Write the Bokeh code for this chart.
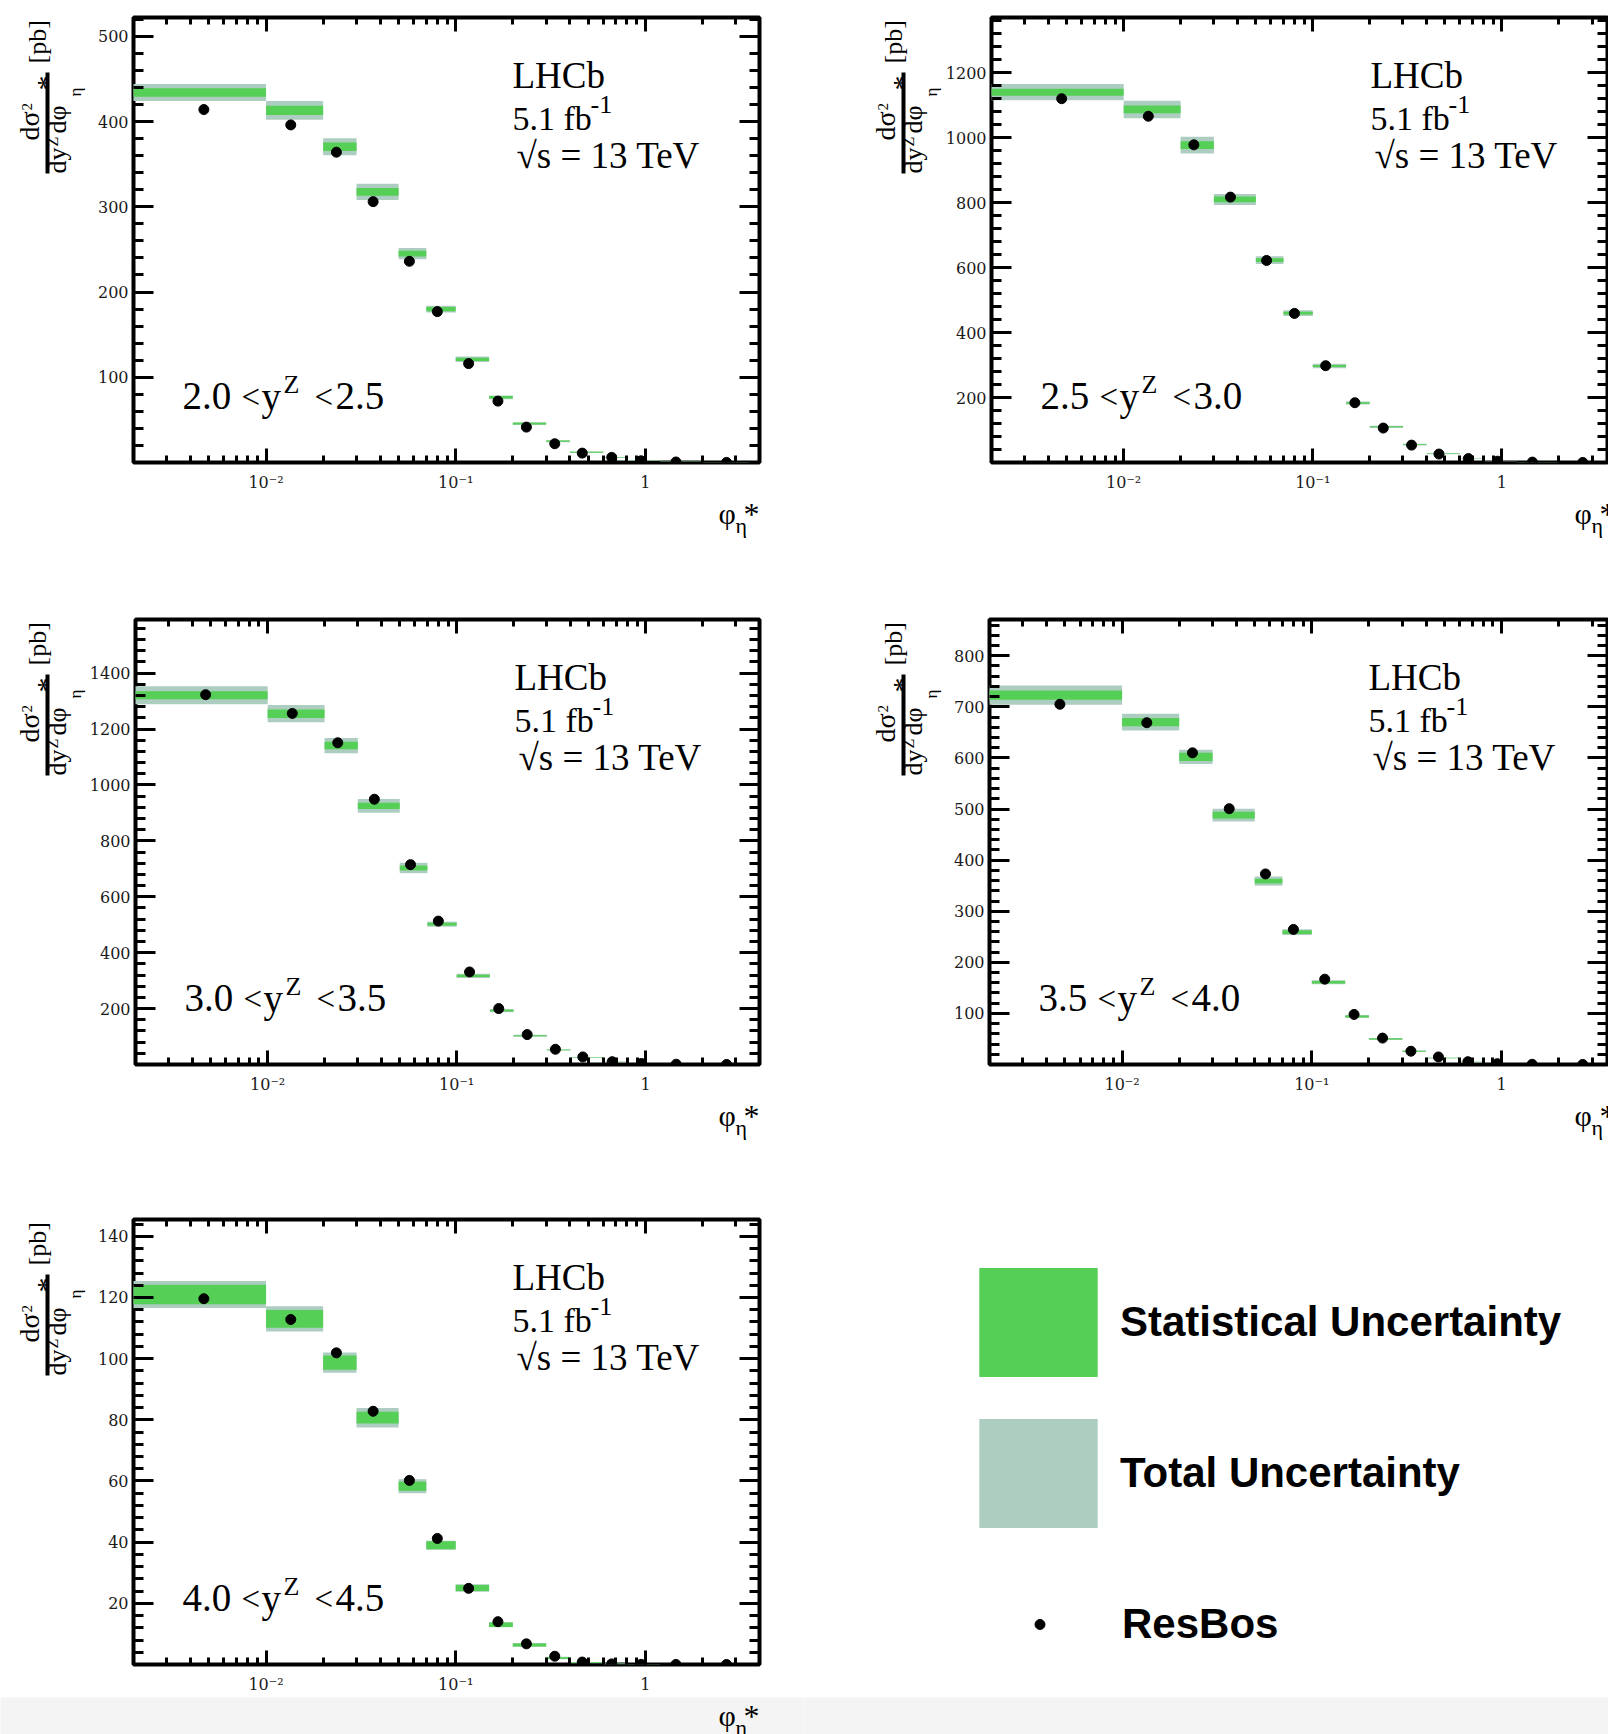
from math import pi
from bokeh.plotting import figure
from bokeh.models import (Range1d, FixedTicker, LinearAxis, LogAxis, Label, BoxAnnotation,
                          CustomJSTickFormatter, Legend, LegendItem)
from bokeh.layouts import column, row
from bokeh.embed import file_html
from bokeh.resources import INLINE

# ---------------- data ----------------
PHI_EDGES = [0.0, 0.01, 0.02, 0.03, 0.05, 0.07, 0.1, 0.15, 0.2, 0.3, 0.4, 0.6, 0.8, 1.2, 2.0, 4.0]
RESBOS_PHI = [0.0047, 0.0135, 0.0235, 0.0367, 0.057, 0.080, 0.117, 0.167, 0.236, 0.333,
              0.465, 0.665, 0.95, 1.45, 2.68]
X_TICKS = [0.01, 0.1, 1.0]
X_TICK_LABELS = ["10⁻²", "10⁻¹", "1"]

RAPIDITY_BINS = [("2.0", "2.5"), ("2.5", "3.0"), ("3.0", "3.5"), ("3.5", "4.0"), ("4.0", "4.5")]

MEAS_1 = [434, 413, 370.5, 317.5, 245, 180, 121, 76.5, 45.5, 25, 12, 6, 2.5, 0.8, 0.15]
STAT_1 = [5, 5.5, 5, 4.5, 3.5, 2.5, 2, 1.5, 1, 0.8, 0.5, 0.3, 0.2, 0.1, 0.05]
TOT_1 = [10, 11, 10, 9.5, 6.5, 4, 3.2, 2.2, 1.6, 1.2, 0.8, 0.5, 0.3, 0.15, 0.05]
RESBOS_1 = [414, 396, 364, 306, 236, 177, 116, 72, 41.5, 22, 11, 6, 2, 0.6, 0.1]

MEAS_2 = [1140, 1087, 977, 810, 623, 460, 297, 183, 110, 55, 27, 12, 4, 1.2, 0.2]
STAT_2 = [11, 12, 12, 9, 6, 4, 3, 2.5, 1.5, 1, 0.6, 0.4, 0.2, 0.1, 0.05]
TOT_2 = [25, 27, 26, 17, 12, 9, 7, 4.5, 3.5, 2.5, 1.3, 0.7, 0.3, 0.15, 0.05]
RESBOS_2 = [1120, 1066, 978, 817, 622, 459, 298, 184, 106, 53.5, 26, 12, 4, 1.2, 0.2]

MEAS_3 = [1321, 1255, 1141, 925, 703, 502, 317, 193, 103, 52, 25, 11, 3.5, 1, 0.2]
STAT_3 = [14, 15, 13.5, 11, 8.7, 5, 4, 3, 2, 1.3, 0.8, 0.4, 0.2, 0.1, 0.05]
TOT_3 = [32, 31, 27.5, 24.5, 18.5, 9, 7.5, 6, 3.7, 2, 1.2, 0.6, 0.3, 0.15, 0.05]
RESBOS_3 = [1323, 1256, 1151, 949, 715, 513, 331, 200, 107, 54.5, 27, 10, 3.5, 1, 0.2]

MEAS_4 = [723, 670, 602, 488, 359, 259, 161, 94, 50, 26, 12.7, 5, 1.5, 0.4, 0.1]
STAT_4 = [9, 8, 8, 6.7, 4.5, 3.5, 2.5, 2, 1.2, 0.8, 0.5, 0.3, 0.1, 0.05, 0.03]
TOT_4 = [19, 16.5, 14, 12.5, 9, 5.7, 4, 2.7, 2, 1.2, 0.7, 0.4, 0.15, 0.08, 0.03]
RESBOS_4 = [705, 669, 610, 500.7, 373, 264.4, 167, 98, 51.7, 26, 14.8, 5.5, 1.6, 0.4, 0.1]

MEAS_5 = [121, 113, 98.7, 80.7, 58.3, 39, 25, 13, 6.4, 2.1, 0.6, 0.2, 0.05, 0.02, 0.01]
STAT_5 = [3.2, 2.9, 2.3, 1.9, 1.5, 1.3, 1.0, 0.7, 0.5, 0.3, 0.15, 0.08, 0.03, 0.01, 0.01]
TOT_5 = [4.4, 4.1, 3.3, 3.2, 2.3, 1.5, 1.2, 0.8, 0.6, 0.4, 0.2, 0.1, 0.04, 0.02, 0.01]
RESBOS_5 = [119.6, 112.8, 101.9, 82.8, 60.2, 41.2, 24.9, 14, 6.75, 2.7, 0.8, 0.2, 0.05, 0.02, 0.01]

Y_MAX = [522, 1370, 1592, 871, 145.5]
Y_MAJOR = [[100, 200, 300, 400, 500],
           [200, 400, 600, 800, 1000, 1200],
           [200, 400, 600, 800, 1000, 1200, 1400],
           [100, 200, 300, 400, 500, 600, 700, 800],
           [20, 40, 60, 80, 100, 120, 140]]

LEGEND_LABELS = ["Statistical Uncertainty", "Total Uncertainty", "ResBos"]

# ---------------- style ----------------
STAT_COLOR = "#55cf55"
TOT_COLOR = "#aecdc1"
BAND_GRAY = "#f4f4f4"
SERIF = "Liberation Serif"
TICK_FONT = "DejaVu Serif"
X_START = 0.002
X_END_LEFT = 4.0
X_END_RIGHT = 3.62
FRAME_H = 445
MBB = 33
MID = 0.34  # em offset between alphabetic baseline and middle

x_fmt = CustomJSTickFormatter(args=dict(tvals=X_TICKS, tlabels=X_TICK_LABELS), code="""
for (let i = 0; i < tvals.length; i++) {
  if (Math.abs(Math.log10(tvals[i]) - Math.log10(tick)) < 1e-6) return tlabels[i];
}
return "";
""")
blank_fmt = CustomJSTickFormatter(code="return '';")


def log_minor(lo, hi):
    out = []
    for e in range(-4, 2):
        for k in range(2, 10):
            v = k * 10.0 ** e
            if lo <= v <= hi:
                out.append(v)
    return out


def lab(p, x, base, text, size, font=SERIF, style="normal", rotated=False):
    """x, base: baseline position (screen px, relative to frame). Anchor uses 'middle'."""
    if rotated:
        ax, ay, ang = x - MID * size, base, pi / 2
    else:
        ax, ay, ang = x, base + MID * size, 0.0
    p.add_layout(Label(x=ax, y=ay, x_units="screen", y_units="screen", text=text,
                       text_font=font, text_font_size=f"{size}px", text_font_style=style,
                       text_color="black", angle=ang, text_align="left",
                       text_baseline="middle"))


def blank_fig(width, height, mbt=0, mbb=0, bg="white"):
    f = figure(width=width, height=height, x_range=Range1d(0, 1), y_range=Range1d(0, 1),
               output_backend="svg", toolbar_location=None,
               x_axis_location=None, y_axis_location=None,
               min_border_left=0, min_border_right=0,
               min_border_top=mbt, min_border_bottom=mbb)
    f.grid.visible = False
    f.outline_line_color = None
    f.background_fill_color = bg
    f.border_fill_color = bg
    return f


def style_axis(ax, tick_in, minor_in, labels=True):
    ax.major_tick_in = tick_in
    ax.major_tick_out = 0
    ax.minor_tick_in = minor_in
    ax.minor_tick_out = 0
    ax.major_tick_line_width = 3
    ax.minor_tick_line_width = 3
    ax.major_tick_line_color = "black"
    ax.minor_tick_line_color = "black"
    ax.axis_line_color = None
    if labels:
        ax.major_label_text_font = TICK_FONT
        ax.major_label_text_font_size = "16px"
        ax.major_label_text_color = "#1a1a1a"
    else:
        ax.major_label_text_font_size = "0px"
        ax.major_label_standoff = 0


def make_cell(i, meas, stat, tot, resbos, col, mbt, xfig_h, bottom_row=False):
    left_col = col == 0
    yfig_w = 86 if left_col else 138
    frame_off = 133 if left_col else 185       # frame-left offset inside the cell
    mbr = 45 if left_col else 1
    x_end = X_END_LEFT if left_col else X_END_RIGHT
    height = mbt + FRAME_H + MBB

    p = figure(width=804 - yfig_w, height=height, x_axis_type="log",
               x_range=Range1d(X_START, x_end), y_range=Range1d(0, Y_MAX[i]),
               output_backend="svg", toolbar_location=None,
               min_border_left=frame_off - yfig_w, min_border_right=mbr,
               min_border_top=mbt, min_border_bottom=MBB)
    p.grid.visible = False
    p.outline_line_color = "black"
    p.outline_line_width = 4
    p.background_fill_color = "white"
    p.border_fill_color = "white"

    lo = [e if e > 0 else X_START / 10 for e in PHI_EDGES[:-1]]
    hi = PHI_EDGES[1:]
    p.quad(left=lo, right=hi,
           bottom=[m - t for m, t in zip(meas, tot)], top=[m + t for m, t in zip(meas, tot)],
           fill_color=TOT_COLOR, line_color=None)
    p.quad(left=lo, right=hi,
           bottom=[m - s for m, s in zip(meas, stat)], top=[m + s for m, s in zip(meas, stat)],
           fill_color=STAT_COLOR, line_color=None)
    p.scatter(RESBOS_PHI, resbos, size=10, fill_color="black", line_color="black")

    xt = FixedTicker(ticks=X_TICKS, minor_ticks=log_minor(X_START, x_end))
    step = Y_MAJOR[i][1] - Y_MAJOR[i][0]
    ymin_ticks = []
    v = 0.0
    while v <= Y_MAX[i]:
        if all(abs(v - m) > 1e-9 for m in Y_MAJOR[i]):
            ymin_ticks.append(v)
        v += step / 5
    yt = FixedTicker(ticks=Y_MAJOR[i], minor_ticks=ymin_ticks)

    xa = p.xaxis[0]
    xa.ticker = xt
    xa.formatter = x_fmt
    style_axis(xa, 14, 7)
    xa.major_label_standoff = 10
    ya = p.yaxis[0]
    ya.ticker = yt
    style_axis(ya, 20, 10)
    ya.major_label_standoff = 5

    top = LogAxis(ticker=xt, formatter=blank_fmt)
    style_axis(top, 14, 7, labels=False)
    p.add_layout(top, "above")
    right = LinearAxis(ticker=yt, formatter=blank_fmt)
    style_axis(right, 20, 10, labels=False)
    p.add_layout(right, "right")

    # LHCb block
    lab(p, 379, 374, "LHCb", 37)
    lab(p, 379, 332, "5.1 fb", 34)
    lab(p, 457, 349, "-1", 26)
    lab(p, 383, 294, "√s = 13 TeV", 37)

    # rapidity range
    ylo, yhi = RAPIDITY_BINS[i]
    lab(p, 49, 53, ylo, 39)
    lab(p, 108, 54, "<", 33)
    lab(p, 128, 53, "y", 39)
    lab(p, 150, 69, "Z", 26)
    lab(p, 181, 54, "<", 33)
    lab(p, 202, 53, yhi, 39)

    # y axis title (rotated fraction) in its own narrow figure
    yf = blank_fig(yfig_w, height, mbt=mbt, mbb=MBB)
    o = frame_off
    lab(yf, o - 94, 322, "dσ", 28, rotated=True)
    lab(yf, o - 101, 352, "2", 15, rotated=True)
    yf.add_layout(BoxAnnotation(left=o - 88, right=o - 84, bottom=289, top=390,
                                left_units="screen", right_units="screen",
                                bottom_units="screen", top_units="screen",
                                fill_color="black", fill_alpha=1.0, line_color=None))
    lab(yf, o - 67, 289, "dy", 26, rotated=True)
    lab(yf, o - 76, 316, "Z", 16, rotated=True)
    lab(yf, o - 67, 329, "dφ", 26, rotated=True)
    lab(yf, o - 77, 372, "*", 30, rotated=True)
    lab(yf, o - 52, 366, "η", 17, rotated=True)
    lab(yf, o - 87, 399, "[pb]", 26, rotated=True)

    # x axis title in its own strip below
    xf = blank_fig(804, xfig_h, bg=BAND_GRAY if bottom_row else "white")
    top_abs = 462 + MBB  # strip top, in the panel's frame geometry

    def up(abs_y):
        return xfig_h - (abs_y - top_abs)
    xo = frame_off + 585
    lab(xf, xo, up(523), "φ", 30)
    lab(xf, xo + 17, up(532), "η", 22)
    lab(xf, xo + 25, up(524), "*", 32)

    return column(row(yf, p), xf)


c1 = make_cell(0, MEAS_1, STAT_1, TOT_1, RESBOS_1, 0, 17, 602 - 17 - FRAME_H - MBB)
c2 = make_cell(1, MEAS_2, STAT_2, TOT_2, RESBOS_2, 1, 17, 602 - 17 - FRAME_H - MBB)
c3 = make_cell(2, MEAS_3, STAT_3, TOT_3, RESBOS_3, 0, 17, 602 - 17 - FRAME_H - MBB)
c4 = make_cell(3, MEAS_4, STAT_4, TOT_4, RESBOS_4, 1, 17, 602 - 17 - FRAME_H - MBB)
c5 = make_cell(4, MEAS_5, STAT_5, TOT_5, RESBOS_5, 0, 15, 530 - 15 - FRAME_H - MBB,
               bottom_row=True)

# ---------------- legend panel ----------------
leg = blank_fig(804, 15 + FRAME_H + MBB, mbt=15, mbb=MBB)
lo5 = [e if e > 0 else X_START / 10 for e in PHI_EDGES[:-1]]
hi5 = PHI_EDGES[1:]
r_stat = leg.quad(left=lo5, right=hi5, bottom=[m - s for m, s in zip(MEAS_5, STAT_5)],
                  top=[m + s for m, s in zip(MEAS_5, STAT_5)],
                  fill_color=STAT_COLOR, line_color=None, visible=False)
r_tot = leg.quad(left=lo5, right=hi5, bottom=[m - t for m, t in zip(MEAS_5, TOT_5)],
                 top=[m + t for m, t in zip(MEAS_5, TOT_5)],
                 fill_color=TOT_COLOR, line_color=None, visible=False)
r_dot = leg.scatter(RESBOS_PHI, RESBOS_5, size=10, fill_color="black", line_color="black",
                    visible=False)


def add_legend(fig, label, rend, loc, gw, gh, standoff):
    lg = Legend(items=[LegendItem(label=label, renderers=[rend], index=0)], location=loc,
                glyph_width=gw, glyph_height=gh, label_standoff=standoff,
                padding=0, margin=0, spacing=0,
                label_text_font="Liberation Sans", label_text_font_style="bold",
                label_text_font_size="42px", label_text_color="black",
                border_line_color=None, background_fill_alpha=0.0)
    fig.add_layout(lg, "center")


add_legend(leg, LEGEND_LABELS[0], r_stat, (160, 274), 148, 136, 8)
add_legend(leg, LEGEND_LABELS[1], r_tot, (160, 123), 148, 136, 8)
add_legend(leg, LEGEND_LABELS[2], r_dot, (223, 10), 25, 60, 70)
leg_strip = blank_fig(804, 530 - 15 - FRAME_H - MBB, bg=BAND_GRAY)
c6 = column(leg, leg_strip)

layout = column(row(c1, c2), row(c3, c4), row(c5, c6))
open("out.html", "w").write(file_html(layout, INLINE))
